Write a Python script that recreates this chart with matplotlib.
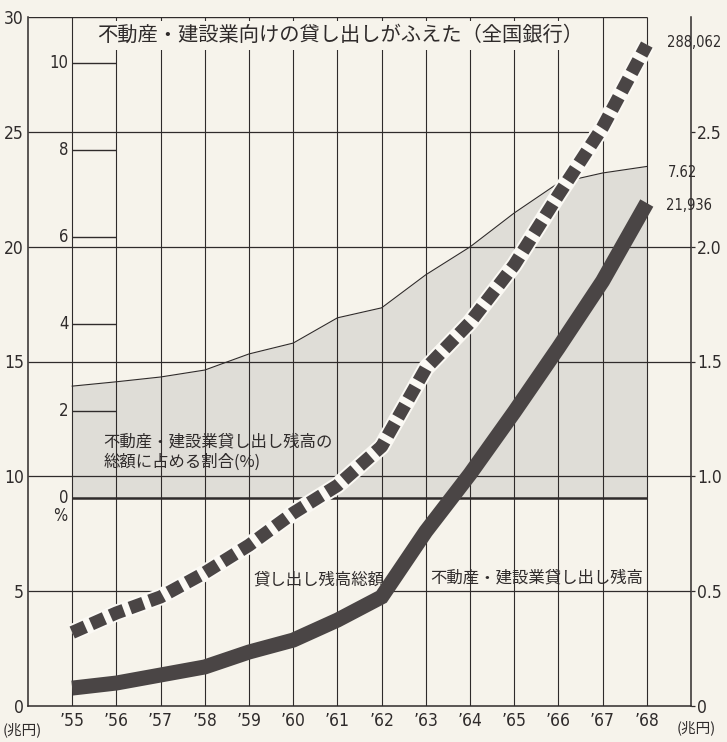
import matplotlib
matplotlib.use("Agg")
import matplotlib.pyplot as plt
import numpy as np

# ---------------- data ----------------
years = ["’55", "’56", "’57", "’58", "’59", "’60", "’61",
         "’62", "’63", "’64", "’65", "’66", "’67", "’68"]
# 貸し出し残高総額 (兆円, left scale)
total_loans = [3.2, 4.05, 4.75, 5.8, 7.0, 8.4, 9.6,
               11.3, 14.7, 16.7, 19.2, 22.25, 25.2, 28.8]
# 不動産・建設業貸し出し残高 (兆円, right scale)
realestate_loans = [0.078, 0.100, 0.135, 0.170, 0.235, 0.287, 0.374,
                    0.475, 0.76, 1.01, 1.28, 1.56, 1.85, 2.19]
# 総額に占める割合 (%)
share_pct = [2.57, 2.67, 2.78, 2.94, 3.31, 3.56, 4.14,
             4.37, 5.13, 5.77, 6.55, 7.24, 7.47, 7.62]

left_ticks = [0, 5, 10, 15, 20, 25, 30]
right_ticks = [0, 0.5, 1.0, 1.5, 2.0, 2.5]
right_tick_labels = ["0", "0.5", "1.0", "1.5", "2.0", "2.5"]
pct_ticks = [0, 2, 4, 6, 8, 10]

title = "不動産・建設業向けの貸し出しがふえた（全国銀行）"
share_label = "不動産・建設業貸し出し残高の\n総額に占める割合(%)"
total_label = "貸し出し残高総額"
re_label = "不動産・建設業貸し出し残高"
end_labels = ["288,062", "7.62", "21,936"]

# ---------------- style ----------------
BG = "#f6f3eb"
HALO = "#fbf9f4"
INK = "#2f2b2b"
LINE = "#4a4545"
SHADE = "#dfddd7"
NUM = ["Liberation Sans Narrow", "DejaVu Sans"]
NUMKW = dict(family=NUM, fontstretch="condensed")
CJK = ["Noto Sans CJK JP", "DejaVu Sans"]

fig = plt.figure(figsize=(7.27, 7.42), dpi=100, facecolor=BG)
ax = fig.add_axes([28 / 727, 36 / 742, 663 / 727, 689 / 742])
axp = ax.twinx()
axr = ax.twinx()
for a in (ax, axp, axr):
    a.patch.set_visible(False)
axp.set_zorder(0)
ax.set_zorder(1)
axr.set_zorder(2)

x = np.arange(len(years))
ax.set_xlim(-1, len(years))
ax.set_ylim(0, 30)
axr.set_ylim(0, 3.0)
# percent scale: 0% sits at 9.06 and 10% at 28.0 on the left scale
p0, pscale = 9.06, 1.894
axp.set_ylim(-p0 / pscale, (30 - p0) / pscale)

# ---- shaded percentage area ----
axp.fill_between(x, 0, share_pct, color=SHADE, lw=0)
axp.plot(x, share_pct, color=INK, lw=0.8)
axp.hlines(0, x[0], x[-1], color=INK, lw=1.8)
axp.hlines(pct_ticks[1:], x[0], x[1], color=INK, lw=1.0)
for p in pct_ticks:
    axp.annotate(str(p), xy=(x[0], p), xytext=(-2.5, 0), textcoords="offset points",
                 ha="right", va="center", fontsize=12, color=INK, **NUMKW)
axp.annotate("%", xy=(x[0], 0), xytext=(-8.5, -13), textcoords="offset points",
             ha="center", va="center", fontsize=12, color=INK, **NUMKW)
axp.set_yticks([])
for s in axp.spines.values():
    s.set_visible(False)

# ---- grid ----
ax.vlines(x, 0, 30, color=INK, lw=0.8, zorder=1)
hsegs = {5: [(-1, 1.8), (7, 14)], 10: [(-1, 14)], 15: [(-1, 7.95), (11, 14)],
         20: [(-1, 14)], 25: [(-1, 11.7)]}
for yv, segs in hsegs.items():
    for a0, a1 in segs:
        ax.hlines(yv, a0, a1, color=INK, lw=0.9, zorder=1)
ax.hlines(30, -1, x[-1], color=INK, lw=1.0, zorder=1)

# ---- title ----
ax.text(6.07, 29.21, title, ha="center", va="center", fontsize=14.6, family=CJK,
        color=INK, zorder=3,
        bbox=dict(facecolor=BG, edgecolor="none", boxstyle="square,pad=0.2"))

# ---- total loans (dashed) ----
ax.plot(x, total_loans, color=HALO, lw=12.2, solid_capstyle="butt", zorder=4)
ax.plot(x, total_loans, color=LINE, lw=9.4, linestyle=(0, (1.1, 0.5)),
        dash_capstyle="butt", zorder=5)

# ---- real estate loans (solid, right scale) ----
axr.plot(x, realestate_loans, color=LINE, lw=10.8, solid_capstyle="butt",
         solid_joinstyle="miter")

# ---- text labels ----
ax.text(0.70, 11.06, share_label, ha="left", va="center", fontsize=11.8,
        family=CJK, color=INK, linespacing=1.2, zorder=3)
ax.text(4.10, 5.49, total_label, ha="left", va="center", fontsize=11.8,
        family=CJK, color=INK, zorder=3)
ax.text(8.11, 5.57, re_label, ha="left", va="center", fontsize=11.8,
        family=CJK, color=INK, zorder=3)
for lbl, (lx, ly) in zip(end_labels, [(13.46, 28.9), (13.48, 23.25), (13.43, 21.81)]):
    ax.text(lx, ly, lbl, ha="left", va="center", fontsize=10.5, color=INK,
            zorder=6, **NUMKW)

# ---- axes & ticks ----
ax.set_yticks(left_ticks, [str(t) for t in left_ticks], fontsize=12.5,
              color=INK, **NUMKW)
ax.tick_params(axis="y", length=0, pad=3)
ax.set_xticks(x, years, fontsize=12.5, color=INK, **NUMKW)
ax.tick_params(axis="x", length=0, pad=4.5)
axr.set_yticks(right_ticks, right_tick_labels, fontsize=12.5, color=INK, **NUMKW)
axr.tick_params(axis="y", length=3, width=0.9, pad=1.5, direction="out", color=INK)

for name, s in ax.spines.items():
    s.set_color(INK)
    s.set_linewidth(1.1)
ax.spines["top"].set_visible(False)
for s in axr.spines.values():
    s.set_visible(False)

fig.text(22 / 727, 1 - 730 / 742, "(兆円)", ha="center", va="center",
         fontsize=10.5, family=CJK, color=INK)
fig.text(696 / 727, 1 - 728 / 742, "(兆円)", ha="center", va="center",
         fontsize=10.5, family=CJK, color=INK)

fig.savefig("out.png", dpi=100, facecolor=BG)
